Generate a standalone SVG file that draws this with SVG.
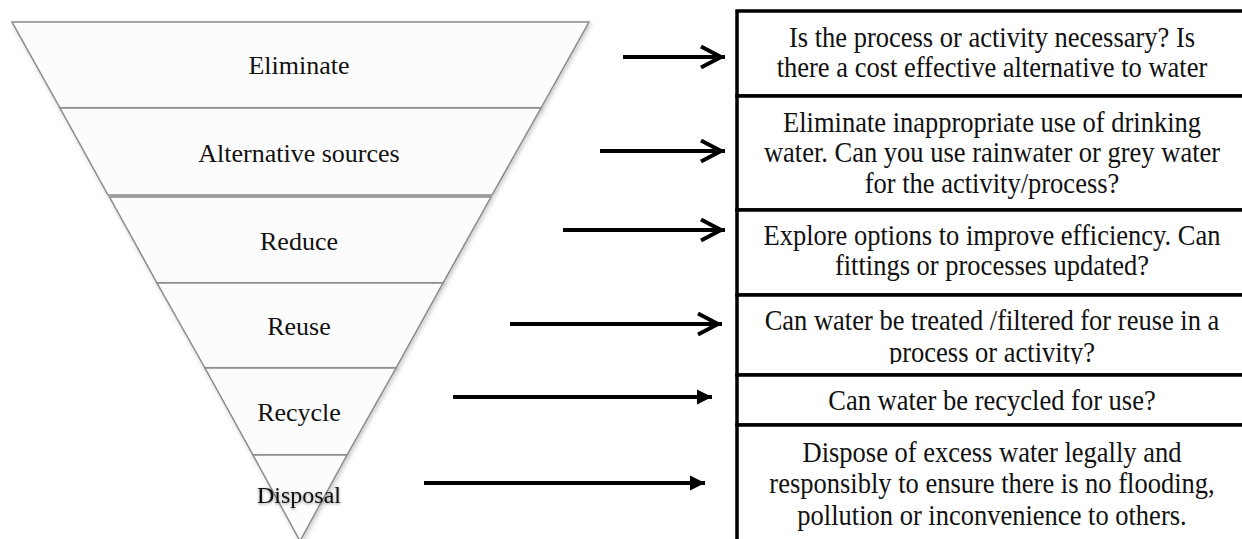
<svg xmlns="http://www.w3.org/2000/svg" width="1242" height="539" viewBox="0 0 1242 539">
  <style>
    .band { fill: #fcfcfc; stroke: #8a8a8a; stroke-width: 1.5; stroke-linejoin: miter; }
    .lbl { font-family: "Liberation Serif", "Times New Roman", serif; font-size: 26px; fill: #111; text-anchor: middle; }
    .txt { font-family: "Liberation Serif", "Times New Roman", serif; font-size: 28.5px; fill: #111; text-anchor: middle; }
    .row { fill: #fff; stroke: #000; stroke-width: 3.5; }
    .arrow { stroke: #000; stroke-width: 4; fill: none; }
  </style>
  <defs>
    <filter id="shadow" x="-10%" y="-10%" width="120%" height="130%">
      <feDropShadow dx="1.5" dy="2" stdDeviation="2" flood-color="#000" flood-opacity="0.22"/>
    </filter>
    <filter id="glow" x="-10%" y="-20%" width="120%" height="160%">
      <feDropShadow dx="0" dy="1" stdDeviation="1.5" flood-color="#000" flood-opacity="0.45"/>
    </filter>
    <marker id="open" markerUnits="userSpaceOnUse" markerWidth="40" markerHeight="40" viewBox="-30 -20 40 40" refX="0" refY="0" orient="auto">
      <path d="M-24,-10.5 L-4,0 L-24,10.5" fill="none" stroke="#000" stroke-width="4" stroke-linejoin="miter"/>
    </marker>
    <marker id="solid" markerUnits="userSpaceOnUse" markerWidth="30" markerHeight="30" viewBox="-20 -15 30 30" refX="0" refY="0" orient="auto">
      <path d="M-15,-7.5 L0,0 L-15,7.5 Z" fill="#000"/>
    </marker>
    <clipPath id="row4clip">
      <rect x="700" y="295" width="600" height="69"/>
    </clipPath>
  </defs>

  <g id="pyramid">
    <g id="eliminate">
      <polygon class="band" filter="url(#shadow)" points="12,22 589,22 541,108 60,108"/>
      <text class="lbl" x="299" y="74">Eliminate</text>
    </g>
    <g id="alternative-sources">
      <polygon class="band" filter="url(#shadow)" points="60,108 541,108 492,195 108,195"/>
      <text class="lbl" x="299" y="162">Alternative sources</text>
    </g>
    <g id="reduce">
      <polygon class="band" filter="url(#shadow)" points="109.5,197 491,197 443,283 157,283"/>
      <text class="lbl" x="299" y="250">Reduce</text>
    </g>
    <g id="reuse">
      <polygon class="band" filter="url(#shadow)" points="157,283 443,283 396,368 205,368"/>
      <text class="lbl" x="299" y="335">Reuse</text>
    </g>
    <g id="recycle">
      <polygon class="band" filter="url(#shadow)" points="205,368 396,368 347,455 253,455"/>
      <text class="lbl" x="299" y="421">Recycle</text>
    </g>
    <g id="disposal">
      <polygon class="band" filter="url(#shadow)" points="253,455 347,455 300,541"/>
      <text class="lbl" x="299" y="503" style="font-size:24px" filter="url(#glow)">Disposal</text>
    </g>
  </g>

  <g id="descriptions">
    <g id="desc-eliminate">
      <rect class="row" x="737" y="11" width="520" height="85"/>
      <g transform="matrix(0.93 0 0 1 69.44 0)">
        <text class="txt" x="992" y="47">Is the process or activity necessary? Is</text>
        <text class="txt" x="992" y="77">there a cost effective alternative to water</text>
      </g>
    </g>
    <g id="desc-alternative">
      <rect class="row" x="737" y="96" width="520" height="114"/>
      <g transform="matrix(0.93 0 0 1 69.44 0)">
        <text class="txt" x="992" y="132">Eliminate inappropriate use of drinking</text>
        <text class="txt" x="992" y="162">water. Can you use rainwater or grey water</text>
        <text class="txt" x="992" y="193">for the activity/process?</text>
      </g>
    </g>
    <g id="desc-reduce">
      <rect class="row" x="737" y="210" width="520" height="85"/>
      <g transform="matrix(0.93 0 0 1 69.44 0)">
        <text class="txt" x="992" y="245">Explore options to improve efficiency. Can</text>
        <text class="txt" x="992" y="275">fittings or processes updated?</text>
      </g>
    </g>
    <g id="desc-reuse">
      <rect class="row" x="737" y="295" width="520" height="80"/>
      <g transform="matrix(0.93 0 0 1 69.44 0)">
        <g clip-path="url(#row4clip)">
          <text class="txt" x="992" y="330">Can water be treated /filtered for reuse in a</text>
          <text class="txt" x="992" y="362">process or activity?</text>
        </g>
      </g>
    </g>
    <g id="desc-recycle">
      <rect class="row" x="737" y="375" width="520" height="50"/>
      <g transform="matrix(0.93 0 0 1 69.44 0)">
        <text class="txt" x="992" y="410">Can water be recycled for use?</text>
      </g>
    </g>
    <g id="desc-disposal">
      <rect class="row" x="737" y="425" width="520" height="130"/>
      <g transform="matrix(0.93 0 0 1 69.44 0)">
        <text class="txt" x="992" y="462">Dispose of excess water legally and</text>
        <text class="txt" x="992" y="493">responsibly to ensure there is no flooding,</text>
        <text class="txt" x="992" y="525">pollution or inconvenience to others.</text>
      </g>
    </g>
  </g>

  <g id="connectors">
    <line class="arrow" x1="623" y1="57" x2="725" y2="57" marker-end="url(#open)"/>
    <line class="arrow" x1="600" y1="151" x2="725" y2="151" marker-end="url(#open)"/>
    <line class="arrow" x1="563" y1="230" x2="725" y2="230" marker-end="url(#open)"/>
    <line class="arrow" x1="510" y1="324" x2="722" y2="324" marker-end="url(#open)"/>
    <line class="arrow" x1="453" y1="397" x2="712" y2="397" marker-end="url(#solid)"/>
    <line class="arrow" x1="424" y1="483" x2="705" y2="483" marker-end="url(#solid)"/>
  </g>
</svg>
